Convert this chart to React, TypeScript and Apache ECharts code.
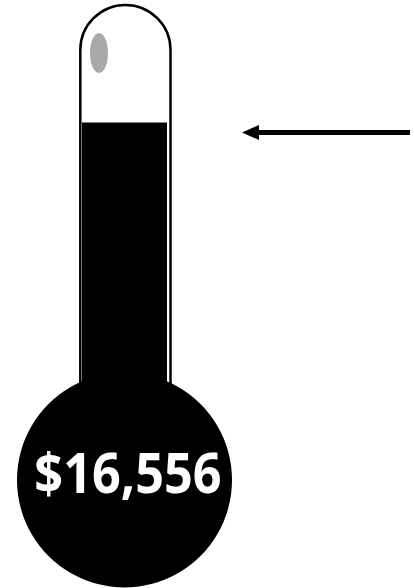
import React, { useEffect, useRef } from "react";
import * as echarts from "echarts";

const categories: string[] = ["Raised"];
const raisedValues: number[] = [16556];
const goalValue: number = 20000;
const axisMin: number = 0;

function formatMoney(v: number): string {
  return "$" + v.toLocaleString("en-US");
}

export default function App() {
  const ref = useRef<HTMLDivElement>(null);
  useEffect(() => {
    if (!ref.current) return;
    const chart = echarts.init(ref.current, undefined, { renderer: "svg" });
    const tubeL = 80.3;
    const tubeR = 170.5;
    const domeCx = (tubeL + tubeR) / 2;
    const domeCy = 50;
    const domeR = (tubeR - tubeL) / 2;
    chart.setOption({
      animation: false,
      backgroundColor: "#ffffff",
      grid: { left: 80, right: 414 - 169, top: 48, bottom: 108, containLabel: false },
      xAxis: { type: "category", data: categories, show: false },
      yAxis: { type: "value", min: axisMin, max: goalValue, show: false, splitLine: { show: false } },
      series: [
        {
          type: "bar",
          data: raisedValues,
          barWidth: 85,
          itemStyle: { color: "#000000" },
          z: 5,
          silent: true,
        },
      ],
      graphic: [
        {
          type: "arc",
          z: 3,
          shape: { cx: domeCx, cy: domeCy, r: domeR, startAngle: Math.PI, endAngle: 2 * Math.PI },
          style: { stroke: "#000000", lineWidth: 2.5, fill: null },
        },
        {
          type: "line",
          z: 3,
          shape: { x1: tubeL, y1: domeCy, x2: tubeL, y2: 395 },
          style: { stroke: "#000000", lineWidth: 2.5 },
        },
        {
          type: "line",
          z: 3,
          shape: { x1: tubeR, y1: domeCy, x2: tubeR, y2: 395 },
          style: { stroke: "#000000", lineWidth: 2.5 },
        },
        {
          type: "ellipse",
          z: 4,
          shape: { cx: 99, cy: 53, rx: 9, ry: 20 },
          style: { fill: "#a9a9a9" },
        },
        {
          type: "circle",
          z: 10,
          shape: { cx: 124.5, cy: 480, r: 107.5 },
          style: { fill: "#000000" },
        },
        {
          type: "text",
          z: 11,
          x: 128,
          y: 471,
          scaleX: 0.9,
          style: {
            text: formatMoney(raisedValues[0]),
            fill: "#ffffff",
            font: 'bold 56px "Open Sans", sans-serif',
            align: "center",
            verticalAlign: "middle",
          },
        },
        {
          type: "line",
          z: 6,
          shape: { x1: 256, y1: 132.5, x2: 410, y2: 132.5 },
          style: { stroke: "#000000", lineWidth: 5 },
        },
        {
          type: "polygon",
          z: 6,
          shape: { points: [[242, 132.5], [259, 125], [259, 140]] },
          style: { fill: "#000000" },
        },
      ],
    });
    return () => chart.dispose();
  }, []);
  return (
    <div
      ref={ref}
      style={{ position: "fixed", left: 0, top: 0, width: 414, height: 588 }}
    />
  );
}
